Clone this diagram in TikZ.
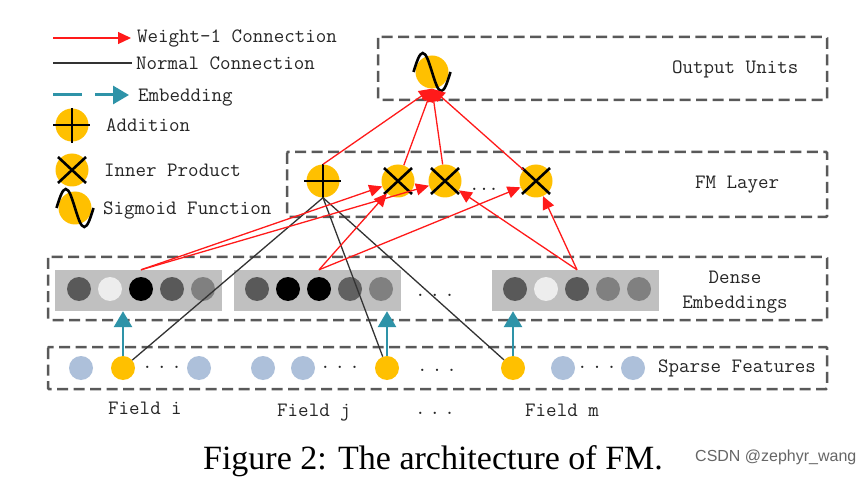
\documentclass[tikz,border=0pt]{standalone}
\usepackage{fontspec}
\usepackage{tikz}
\usetikzlibrary{arrows.meta}
\newfontfamily\capfont{Liberation Serif}
\newfontfamily\markfont{Liberation Sans}
\definecolor{unitfill}{HTML}{FFC000}
\definecolor{sparsefill}{HTML}{ADC0DA}
\definecolor{embfill}{HTML}{C0C0C0}
\definecolor{embteal}{HTML}{2E93A8}
\definecolor{boxgray}{HTML}{595959}
\definecolor{wred}{HTML}{FF1A1A}
\newcommand{\plusmark}[1]{\draw[symline] ([xshift=-19pt]#1.center) -- ([xshift=18pt]#1.center)
  ([yshift=17pt]#1.center) -- ([yshift=-18pt]#1.center);}
\newcommand{\crossmark}[1]{\draw[symline] ([shift={(-14pt,13pt)}]#1.center) -- ([shift={(14pt,-13pt)}]#1.center)
  ([shift={(-14pt,-13pt)}]#1.center) -- ([shift={(14pt,13pt)}]#1.center);}
\newcommand{\sigmark}[1]{\draw[symline] ([xshift=-18.5pt]#1.center) sin ++(9.25pt,19pt) cos ++(9.25pt,-19pt)
  sin ++(9.25pt,-19pt) cos ++(9.25pt,19pt);}

\begin{document}
\begin{tikzpicture}[x=1pt,y=-1pt,
  txt/.style={font=\ttfamily\fontsize{20.4}{25}\selectfont, text=black!85, inner sep=0pt,
    text height=12.5pt, text depth=0pt},
  layerbox/.style={boxgray, line width=2.5pt, dash pattern=on 11pt off 5.5pt, rounded corners=1pt},
  unitnode/.style={circle, fill=unitfill, minimum size=33pt, inner sep=0pt},
  symline/.style={black, line width=2.6pt},
  embrect/.style={rectangle, fill=embfill, minimum width=167pt, minimum height=41pt, inner sep=0pt},
  embdot/.style={circle, minimum size=24pt, inner sep=0pt},
  sparse/.style={circle, fill=sparsefill, minimum size=24pt, inner sep=0pt},
  hotnode/.style={circle, fill=unitfill, minimum size=24pt, inner sep=0pt},
  wline/.style={wred, line width=1.3pt, -{Triangle[length=13pt,width=12pt]}},
  nline/.style={black!80, line width=1.3pt},
  embarrow/.style={embteal, line width=2.8pt, -{Triangle[length=16pt,width=18pt]}}]

  \fill[white] (0,0) rectangle (865,481);
  \useasboundingbox (0,0) rectangle (865,481);

  % legend
  \coordinate (lgw0) at (53,38); \coordinate (lgw1) at (131,38);
  \draw[wline] (lgw0) -- (lgw1);
  \coordinate (lgn0) at (53,63); \coordinate (lgn1) at (132,63);
  \draw[nline, line width=2.4pt] (lgn0) -- (lgn1);
  \coordinate (lge0) at (53,95); \coordinate (lge1) at (129,95);
  \draw[embarrow, line width=3pt, dash pattern=on 29pt off 13pt] (lge0) -- (lge1);
  \node[unitnode] (lgadd) at (72,125) {};
  \node[unitnode] (lgprod) at (72,170) {};
  \node[unitnode] (lgsig) at (75,208) {};
  \plusmark{lgadd} \crossmark{lgprod} \sigmark{lgsig}
  \node[txt, anchor=west] (lgt1) at (137,36) {Weight-1 Connection};
  \node[txt, anchor=west] (lgt2) at (136,63) {Normal Connection};
  \node[txt, anchor=west] (lgt3) at (138,95) {Embedding};
  \node[txt, anchor=west] (lgt4) at (106,125) {Addition};
  \node[txt, anchor=west] (lgt5) at (104,170) {Inner Product};
  \node[txt, anchor=west] (lgt6) at (103,208) {Sigmoid Function};

  % layers
  \draw[layerbox] (378,37) rectangle (827,100);
  \draw[layerbox] (287,152) rectangle (827,217);
  \draw[layerbox] (48,257) rectangle (827,320);
  \draw[layerbox] (48,347) rectangle (827,389);
  \node[txt, anchor=west] (outlbl) at (672,67) {Output Units};
  \node[txt, anchor=west] (fmlbl) at (695,182) {FM Layer};
  \node[txt] (denselbl) at (735,277) {Dense};
  \node[txt] (emblbl) at (735,302) {Embeddings};
  \node[txt, anchor=west] (sparselbl) at (658,366) {Sparse Features};

  % output and FM units
  \node[unitnode] (out) at (432,72) {};
  \sigmark{out}
  \node[unitnode] (add) at (323,181) {};
  \node[unitnode] (c1) at (398,181) {};
  \node[unitnode] (c2) at (445,181) {};
  \node[unitnode] (c3) at (536,181) {};
  \plusmark{add} \crossmark{c1} \crossmark{c2} \crossmark{c3}
  \node[txt] (fmdots) at (484,184) {.\kern-1pt.\kern-1pt.};

  % dense embeddings
  \node[embrect] (emb1) at (138.5,290.5) {};
  \node[embrect] (emb2) at (317,290.5) {};
  \node[embrect] (emb3) at (575,290.5) {};
  \node[embdot, fill=black!65] (e11) at (79,289) {};
  \node[embdot, fill=black!7] (e12) at (110,289) {};
  \node[embdot, fill=black] (e13) at (141,289) {};
  \node[embdot, fill=black!65] (e14) at (172,289) {};
  \node[embdot, fill=black!50] (e15) at (203,289) {};
  \node[embdot, fill=black!65] (e21) at (257,289) {};
  \node[embdot, fill=black] (e22) at (288,289) {};
  \node[embdot, fill=black] (e23) at (319,289) {};
  \node[embdot, fill=black!62] (e24) at (350,289) {};
  \node[embdot, fill=black!50] (e25) at (381,289) {};
  \node[embdot, fill=black!65] (e31) at (515,289) {};
  \node[embdot, fill=black!7] (e32) at (546,289) {};
  \node[embdot, fill=black!65] (e33) at (577,289) {};
  \node[embdot, fill=black!50] (e34) at (608,289) {};
  \node[embdot, fill=black!50] (e35) at (639,289) {};
  \node[txt] (embdots) at (435,290) {.\kern4pt.\kern4pt.};

  % sparse features
  \node[sparse] (s11) at (81,368) {};
  \node[hotnode] (s12) at (123,368) {};
  \node[txt] (sdots1) at (162,362) {.\kern4pt.\kern4pt.};
  \node[sparse] (s13) at (199,368) {};
  \node[sparse] (s21) at (263,368) {};
  \node[sparse] (s22) at (303,368) {};
  \node[txt] (sdots2) at (340,362) {.\kern4pt.\kern4pt.};
  \node[hotnode] (s23) at (387,368) {};
  \node[txt] (sdots3) at (437,365) {.\kern4pt.\kern4pt.};
  \node[hotnode] (s31) at (513,368) {};
  \node[sparse] (s32) at (563,368) {};
  \node[txt] (sdots4) at (597,362) {.\kern4pt.\kern4pt.};
  \node[sparse] (s33) at (633,368) {};

  \node[txt] (fi) at (145,408) {Field i};
  \node[txt] (fj) at (314,410) {Field j};
  \node[txt] (fdots) at (435,408) {.\kern4pt.\kern4pt.};
  \node[txt] (fm) at (562,410) {Field m};

  % embedding arrows
  \draw[embarrow] (s12) -- (s12 |- emb1.south);
  \draw[embarrow] (s23) -- (s23 |- emb2.south);
  \draw[embarrow] (s31) -- (s31 |- emb3.south);

  % normal connections
  \draw[nline] (add.south) -- (s12);
  \draw[nline] (add.south) -- (s23);
  \draw[nline] (add.south) -- (s31);

  % weight-1 connections
  \draw[wline] (emb1.north -| e13) -- (c1);
  \draw[wline] (emb1.north -| e13) -- (c2);
  \draw[wline] (emb2.north -| e23) -- (c1);
  \draw[wline] (emb2.north -| e23) -- (c3);
  \draw[wline] (emb3.north -| e33) -- (c2);
  \draw[wline] (emb3.north -| e33) -- (c3);
  \draw[wline] (add.north) -- (out.south);
  \draw[wline] (c1) -- (out.south);
  \draw[wline] (c2) -- (out.south);
  \draw[wline] (c3) -- (out.south);

  % caption
  \node[anchor=base, inner sep=0pt, font=\capfont\fontsize{34}{40}\selectfont] (cap) at (433,469)
    {Figure 2: The architecture of FM.};
  \node[anchor=base west, inner sep=0pt, text=black!60, font=\markfont\fontsize{16}{18}\selectfont] (mark)
    at (695,461) {CSDN @zephyr\_wang};
\end{tikzpicture}
\end{document}
